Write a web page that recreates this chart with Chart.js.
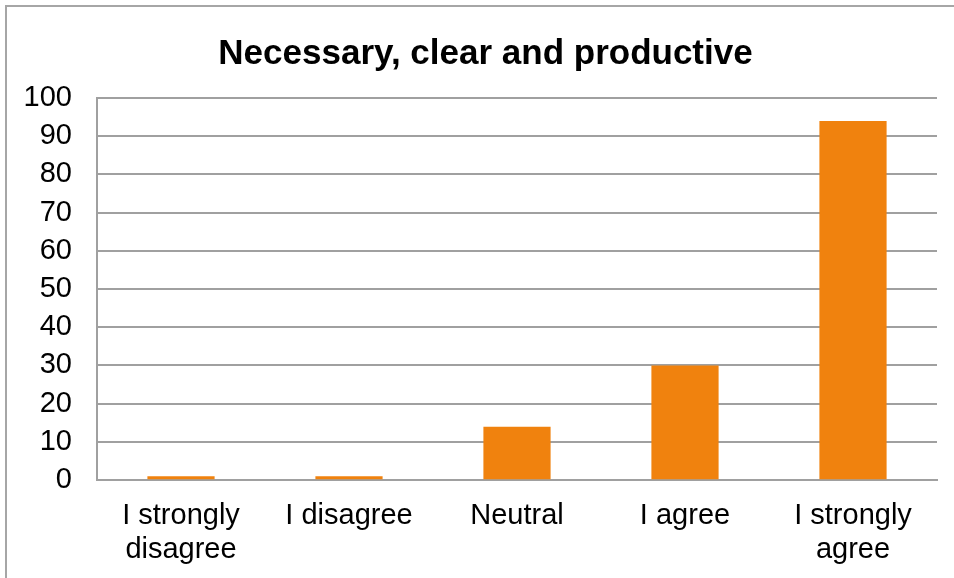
<!DOCTYPE html>
<html>
<head>
<meta charset="utf-8">
<script src="https://cdn.jsdelivr.net/npm/chart.js@4"></script>
<style>
    html, body { margin: 0; padding: 0; overflow: hidden; background: #fff; }
    #frame {
        position: absolute; left: 5px; top: 5px;
        width: 1000px; height: 1000px;
        border-left: 2px solid #a6a6a6; border-top: 2px solid #a6a6a6;
    }
    #chart { position: absolute; left: 0; top: 0; }
</style>
</head>
<body>
<div id="frame"></div>
<canvas id="chart" width="954" height="578"></canvas>
<script>
var categories = [['I strongly', 'disagree'], 'I disagree', 'Neutral', 'I agree', ['I strongly', 'agree']];
var responses = [1, 1, 14, 30, 94];
var yTicks = [0, 10, 20, 30, 40, 50, 60, 70, 80, 90, 100];

// the title sits a bit right of the canvas centre, over the plot area
var titleShift = {
    id: 'titleShift',
    afterLayout: function(chart) {
        if (chart.titleBlock) {
            chart.titleBlock.left += 14;
        }
    }
};

var ctx = document.getElementById('chart').getContext('2d');
var chartInstance = new Chart(ctx, {
    type: 'bar',
    data: {
        labels: categories,
        datasets: [{
            data: responses,
            backgroundColor: '#F0820E',
            categoryPercentage: 1.0,
            barPercentage: 0.4
        }]
    },
    plugins: [titleShift],
    options: {
        responsive: false,
        animation: false,
        layout: {
            padding: { left: 20, right: 17, top: 0, bottom: 0 }
        },
        plugins: {
            legend: { display: false },
            tooltip: { enabled: false },
            title: {
                display: true,
                text: 'Necessary, clear and productive',
                color: '#000',
                font: { family: 'Liberation Sans, Arial', size: 35, weight: 'bold' },
                padding: { top: 33, bottom: 23 }
            }
        },
        scales: {
            x: {
                grid: { display: false },
                border: { display: true, color: '#a0a0a0', width: 2 },
                ticks: {
                    color: '#000',
                    font: { family: 'Liberation Sans, Arial', size: 29, lineHeight: 1.17 },
                    padding: 11,
                    maxRotation: 0
                },
                afterFit: function(scale) {
                    // the long first/last labels should not squeeze the plot area
                    scale.paddingLeft = 0;
                    scale.paddingRight = 0;
                }
            },
            y: {
                min: 0,
                max: 100,
                afterBuildTicks: function(scale) {
                    scale.ticks = yTicks.map(function(v) { return { value: v }; });
                },
                afterFit: function(scale) {
                    scale.width = 77;
                },
                grid: { color: '#a0a0a0', lineWidth: 2, drawTicks: false },
                border: { display: true, color: '#a0a0a0', width: 2 },
                ticks: {
                    color: '#000',
                    font: { family: 'Liberation Sans, Arial', size: 29 },
                    padding: 25
                }
            }
        }
    }
});
</script>
</body>
</html>
